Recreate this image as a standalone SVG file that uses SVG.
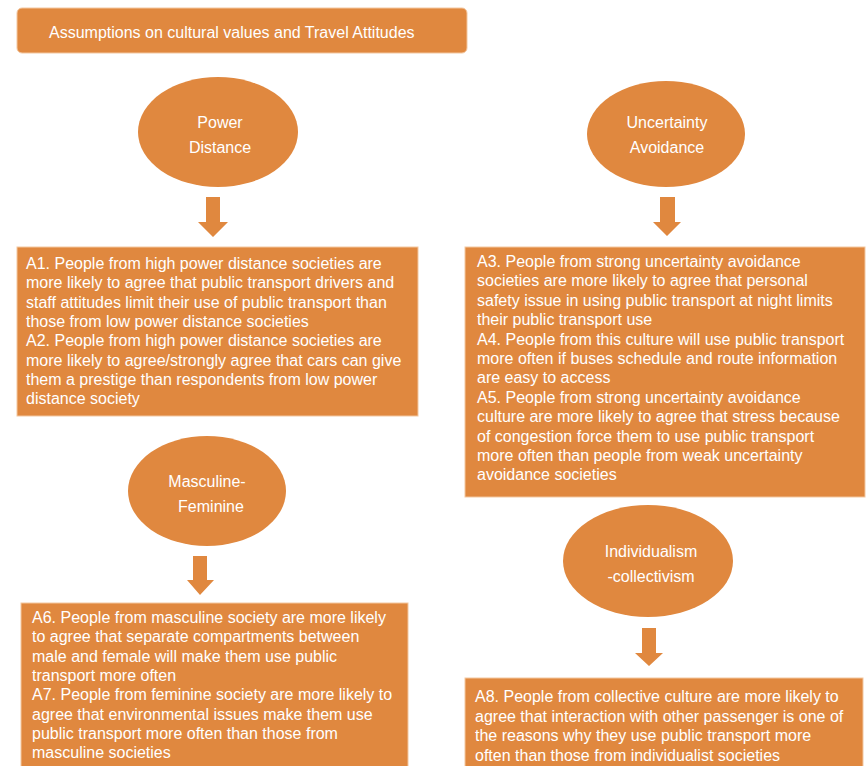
<svg xmlns="http://www.w3.org/2000/svg" width="866" height="766" viewBox="0 0 866 766">
<style>
.box{fill:#E0883F;stroke:#F3C7A0;stroke-width:1}
.ell{fill:#E0883F}
.arr{fill:#E0883F}
text{font-family:"Liberation Sans",Arial,sans-serif;font-size:16px;fill:#FFFFFF}
.c{text-anchor:middle}
</style>
<rect width="866" height="766" fill="#FFFFFF"/>
<g id="connectors">
<polygon class="arr" points="206,197 220,197 220,222 228,222 213,237 198,222 206,222"/>
<polygon class="arr" points="660,197 675,197 675,222 681,222 667,236 653,222 660,222"/>
<polygon class="arr" points="193,556 207,556 207,580 214,580 200,595 187,580 193,580"/>
<polygon class="arr" points="642,628 656,628 656,653 663,653 649,666 635,653 642,653"/>
</g>
<g id="title">
<rect class="box" x="17" y="8" width="450" height="45" rx="5"/>
<text x="49" y="38">Assumptions on cultural values and Travel Attitudes</text>
</g>
<g id="power-distance">
<ellipse class="ell" cx="218" cy="132" rx="80" ry="55"/>
<text class="c" x="220" y="128">Power</text>
<text class="c" x="220" y="153">Distance</text>
</g>
<g id="uncertainty-avoidance">
<ellipse class="ell" cx="666" cy="134" rx="79" ry="53"/>
<text class="c" x="667" y="128">Uncertainty</text>
<text class="c" x="667" y="153">Avoidance</text>
</g>
<g id="box-a1-a2">
<rect class="box" x="17" y="247" width="401" height="169"/>
<text x="26" y="269">A1. People from high power distance societies are</text>
<text x="26" y="288.3">more likely to agree that public transport drivers and</text>
<text x="26" y="307.6">staff attitudes limit their use of public transport than</text>
<text x="26" y="327">those from low power distance societies</text>
<text x="26" y="346.2">A2. People from high power distance societies are</text>
<text x="26" y="365.5">more likely to agree/strongly agree that cars can give</text>
<text x="26" y="384.8">them a prestige than respondents from low power</text>
<text x="26" y="404">distance society</text>
</g>
<g id="box-a3-a5">
<rect class="box" x="465" y="247" width="400" height="250"/>
<text x="477" y="267">A3. People from strong uncertainty avoidance</text>
<text x="477" y="286.4">societies are more likely to agree that personal</text>
<text x="477" y="305.8">safety issue in using public transport at night limits</text>
<text x="477" y="325.2">their public transport use</text>
<text x="477" y="344.6">A4. People from this culture will use public transport</text>
<text x="477" y="364">more often if buses schedule and route information</text>
<text x="477" y="383.4">are easy to access</text>
<text x="477" y="402.8">A5. People from strong uncertainty avoidance</text>
<text x="477" y="422.2">culture are more likely to agree that stress because</text>
<text x="477" y="441.6">of congestion force them to use public transport</text>
<text x="477" y="461">more often than people from weak uncertainty</text>
<text x="477" y="480.4">avoidance societies</text>
</g>
<g id="masculine-feminine">
<ellipse class="ell" cx="207" cy="491" rx="79" ry="55"/>
<text class="c" x="207" y="487">Masculine-</text>
<text class="c" x="211" y="512">Feminine</text>
</g>
<g id="individualism-collectivism">
<ellipse class="ell" cx="648" cy="561" rx="85" ry="56"/>
<text class="c" x="651" y="557">Individualism</text>
<text class="c" x="651" y="582">-collectivism</text>
</g>
<g id="box-a6-a7">
<rect class="box" x="21" y="603" width="387" height="170"/>
<text x="32" y="623">A6. People from masculine society are more likely</text>
<text x="32" y="642.3">to agree that separate compartments between</text>
<text x="32" y="661.6">male and female will make them use public</text>
<text x="32" y="680.9">transport more often</text>
<text x="32" y="700.2">A7. People from feminine society are more likely to</text>
<text x="32" y="719.5">agree that environmental issues make them use</text>
<text x="32" y="738.8">public transport more often than those from</text>
<text x="32" y="758">masculine societies</text>
</g>
<g id="box-a8">
<rect class="box" x="465" y="678" width="398" height="95"/>
<text x="475" y="702">A8. People from collective culture are more likely to</text>
<text x="475" y="721.5">agree that interaction with other passenger is one of</text>
<text x="475" y="741">the reasons why they use public transport more</text>
<text x="475" y="760.5">often than those from individualist societies</text>
</g>
</svg>
